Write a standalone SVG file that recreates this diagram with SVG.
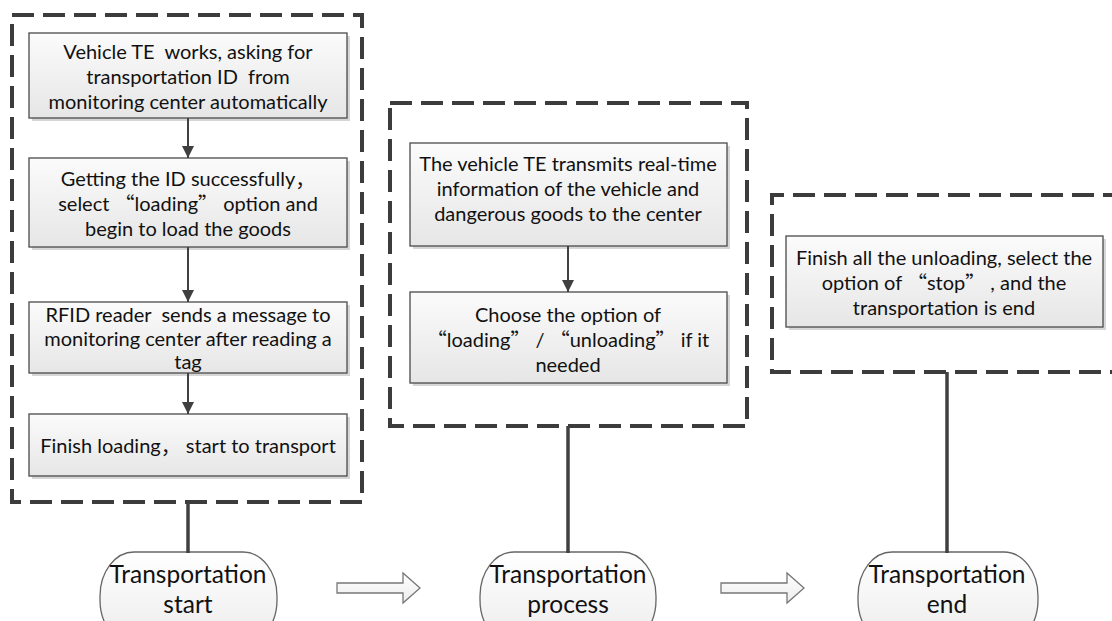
<svg xmlns="http://www.w3.org/2000/svg" width="1112" height="621" viewBox="0 0 1112 621">
<defs>
<linearGradient id="boxg" x1="0" y1="0" x2="0" y2="1">
<stop offset="0" stop-color="#fbfbfb"/>
<stop offset="1" stop-color="#e6e6e6"/>
</linearGradient>
<linearGradient id="termg" x1="0" y1="0" x2="0" y2="1">
<stop offset="0" stop-color="#ffffff"/>
<stop offset="1" stop-color="#ececec"/>
</linearGradient>
<marker id="ah" markerWidth="12" markerHeight="12" refX="12" refY="6" orient="auto" markerUnits="userSpaceOnUse">
<path d="M0,0 L12,6 L0,12 z" fill="#404040"/>
</marker>
<style>
.dash{fill:none;stroke:#3c3c3c;stroke-width:4;stroke-dasharray:22 9}
.box{fill:url(#boxg);stroke:#4a4a4a;stroke-width:1.3}
.shadow{fill:#d6d6d6}
.term{fill:url(#termg);stroke:#666;stroke-width:1.3}
.t{font-family:Lato,"Liberation Sans","Noto Sans CJK SC",sans-serif;font-size:20px;fill:#111;text-anchor:middle;dominant-baseline:central;white-space:pre}
.tt{font-family:Lato,"Liberation Sans","Noto Sans CJK SC",sans-serif;font-size:24.5px;fill:#111;text-anchor:middle;dominant-baseline:central}
.cjk{font-family:"Noto Sans CJK SC",sans-serif}
.link{stroke:#404040;stroke-width:2;fill:none;marker-end:url(#ah)}
.stem{stroke:#404040;stroke-width:3.5;fill:none}
.hollow{fill:url(#termg);stroke:#777;stroke-width:1.3}
</style>
</defs>

<g id="group-start">
<rect class="dash" x="12" y="15" width="350" height="487"/>
</g>
<g id="group-process">
<rect class="dash" x="390" y="103" width="357" height="323"/>
</g>
<g id="group-end">
<path class="dash" d="M1125,195 H772 V372 H1125"/>
</g>

<g id="step1">
<rect class="shadow" x="32" y="36" width="318" height="85"/>
<rect class="box" x="29" y="33" width="318" height="85"/>
<text class="t" x="188" y="51">Vehicle TE  works, asking for</text>
<text class="t" x="188" y="76">transportation ID  from</text>
<text class="t" x="188" y="101">monitoring center automatically</text>
</g>
<g id="step2">
<rect class="shadow" x="32" y="161" width="318" height="89"/>
<rect class="box" x="29" y="158" width="318" height="89"/>
<text class="t" x="188" y="178">Getting the ID successfully<tspan class="cjk">，</tspan></text>
<text class="t" x="188" y="203">select <tspan class="cjk">“</tspan>loading<tspan class="cjk">”</tspan> option and</text>
<text class="t" x="188" y="228">begin to load the goods</text>
</g>
<g id="step3">
<rect class="shadow" x="32" y="305" width="318" height="71"/>
<rect class="box" x="29" y="302" width="318" height="71"/>
<text class="t" x="188" y="314">RFID reader  sends a message to</text>
<text class="t" x="188" y="338">monitoring center after reading a</text>
<text class="t" x="188" y="361">tag</text>
</g>
<g id="step4">
<rect class="shadow" x="32" y="417" width="318" height="62"/>
<rect class="box" x="29" y="414" width="318" height="62"/>
<text class="t" x="188" y="445">Finish loading<tspan class="cjk">，</tspan> start to transport</text>
</g>

<g id="stepA">
<rect class="shadow" x="413" y="146" width="317" height="103"/>
<rect class="box" x="410" y="143" width="317" height="103"/>
<text class="t" x="568" y="163">The vehicle TE transmits real-time</text>
<text class="t" x="568" y="188">information of the vehicle and</text>
<text class="t" x="568" y="213">dangerous goods to the center</text>
</g>
<g id="stepB">
<rect class="shadow" x="413" y="295" width="317" height="91"/>
<rect class="box" x="410" y="292" width="317" height="91"/>
<text class="t" x="568" y="314">Choose the option of</text>
<text class="t" x="568" y="339"><tspan class="cjk">“</tspan>loading<tspan class="cjk">”</tspan> / <tspan class="cjk">“</tspan>unloading<tspan class="cjk">”</tspan> if it</text>
<text class="t" x="568" y="364">needed</text>
</g>

<g id="stepR">
<rect class="shadow" x="789" y="239" width="317" height="91"/>
<rect class="box" x="786" y="236" width="317" height="91"/>
<text class="t" x="944" y="257">Finish all the unloading, select the</text>
<text class="t" x="944" y="282">option of <tspan class="cjk">“</tspan>stop<tspan class="cjk">”</tspan> , and the</text>
<text class="t" x="944" y="307">transportation is end</text>
</g>

<g id="term-start">
<rect class="term" x="100" y="552" width="177" height="92" rx="34" ry="44"/>
<text class="tt" x="188" y="573">Transportation</text>
<text class="tt" x="188" y="603">start</text>
</g>
<g id="term-process">
<rect class="term" x="480" y="552" width="176" height="92" rx="34" ry="44"/>
<text class="tt" x="568" y="573">Transportation</text>
<text class="tt" x="568" y="603">process</text>
</g>
<g id="term-end">
<rect class="term" x="858" y="552" width="180" height="92" rx="34" ry="44"/>
<text class="tt" x="947" y="573">Transportation</text>
<text class="tt" x="947" y="603">end</text>
</g>

<g id="connectors">
<line class="link" x1="188" y1="118" x2="188" y2="158"/>
<line class="link" x1="188" y1="247" x2="188" y2="302"/>
<line class="link" x1="188" y1="373" x2="188" y2="414"/>
<line class="link" x1="568" y1="246" x2="568" y2="292"/>
<line class="stem" x1="188" y1="502" x2="188" y2="553"/>
<line class="stem" x1="568" y1="426" x2="568" y2="553"/>
<line class="stem" x1="947" y1="372" x2="947" y2="553"/>
<path class="hollow" d="M337,583 H403 V573 L420,588 L403,603 V593 H337 Z"/>
<path class="hollow" d="M721,583 H787 V573 L804,588 L787,603 V593 H721 Z"/>
</g>
</svg>
